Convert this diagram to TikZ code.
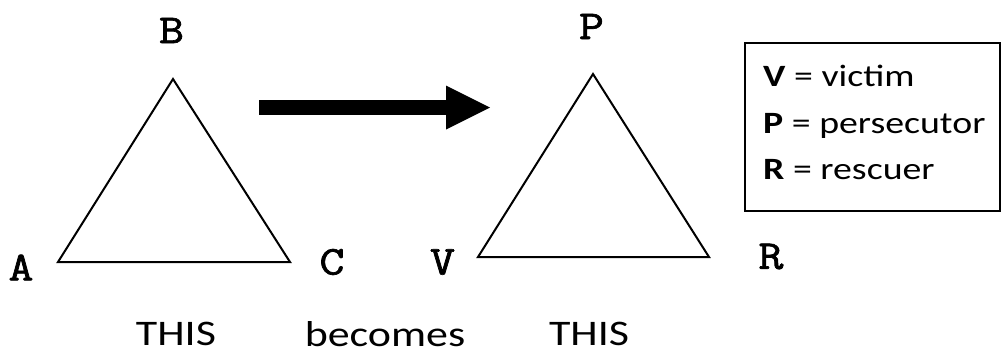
\documentclass[tikz,border=0pt]{standalone}
\usepackage{fontspec}
\setmainfont{Carlito}
\newfontfamily\courish[FakeBold=1.6]{Latin Modern Mono}
\newcommand{\widetxt}[1]{\scalebox{1.22}[1]{#1}}
\newcommand{\widelet}[1]{\scalebox{1.18}[1]{#1}}
\begin{document}
\begin{tikzpicture}[x=1pt,y=-1pt,
  vlabel/.style={font=\courish\fontsize{41}{46}\selectfont, inner sep=0pt},
  caption/.style={font=\fontsize{36}{42}\selectfont, inner sep=0pt},
  tri/.style={draw=black, line width=2pt, line join=miter},
  legend/.style={font=\fontsize{31}{47}\selectfont, inner sep=0pt, anchor=base west}]
\useasboundingbox (0,0) rectangle (1003,354);
% left triangle
\coordinate (a) at (58,262);
\coordinate (b) at (173,79);
\coordinate (c) at (290,262);
\draw[tri] (a) -- (b) -- (c) -- cycle;
\node[vlabel] (la) at (21,267.5) {\widelet{A}};
\node[vlabel] (lb) at (171.5,30.5) {\widelet{B}};
\node[vlabel] (lc) at (332,262) {\widelet{C}};
% right triangle
\coordinate (v) at (478,257);
\coordinate (p) at (593,74);
\coordinate (r) at (709,257);
\draw[tri] (v) -- (p) -- (r) -- cycle;
\node[vlabel] (lv) at (442.5,262) {\widelet{V}};
\node[vlabel] (lp) at (591.5,26.5) {\widelet{P}};
\node[vlabel] (lr) at (771,256.5) {\widelet{R}};
% arrow
\coordinate (s0) at (259,107.5);
\coordinate (s1) at (447,107.5);
\coordinate (tip) at (490,107.5);
\draw[line width=15pt] (s0) -- (s1);
\fill (446,85.5) -- (tip) -- (446,129.5) -- cycle;
% captions
\node[caption] (t1) at (176,334) {\widetxt{THIS}};
\node[caption] (t2) at (385,334) {\widetxt{becomes}};
\node[caption] (t3) at (589,334) {\widetxt{THIS}};
% legend
\node[draw=black, line width=1.5pt, minimum width=255pt, minimum height=168pt, anchor=north west] (box) at (744,42) {};
\node[legend] (l1) at (763,86) {\widetxt{\textbf{V} = victim}};
\node[legend] (l2) at (763,133) {\widetxt{\textbf{P} = persecutor}};
\node[legend] (l3) at (763,179) {\widetxt{\textbf{R} = rescuer}};
\end{tikzpicture}
\end{document}
